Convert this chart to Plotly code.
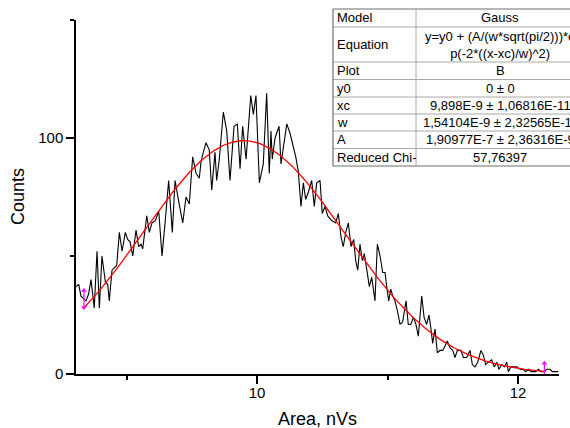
import numpy as np
import plotly.graph_objects as go

# Pulse-area histogram (bin centre in nVs, counts per bin)
area_nvs = [
    8.613, 8.634, 8.651, 8.669, 8.690, 8.710, 8.728, 8.753, 8.774, 8.792,
    8.812, 8.838, 8.856, 8.868, 8.889, 8.907, 8.925, 8.945, 8.966, 8.991,
    9.009, 9.027, 9.048, 9.073, 9.093, 9.111, 9.124, 9.155, 9.175, 9.195,
    9.221, 9.247, 9.272, 9.297, 9.323, 9.351, 9.372, 9.397, 9.431, 9.456,
    9.481, 9.507, 9.533, 9.558, 9.571, 9.589, 9.609, 9.634, 9.653, 9.678,
    9.691, 9.711, 9.742, 9.768, 9.793, 9.824, 9.849, 9.870, 9.890, 9.916,
    9.952, 9.972, 9.992, 10.018, 10.048, 10.074, 10.094, 10.107, 10.117, 10.138,
    10.169, 10.184, 10.202, 10.228, 10.253, 10.278, 10.297, 10.316, 10.337, 10.355,
    10.373, 10.393, 10.419, 10.439, 10.457, 10.483, 10.500, 10.521, 10.542, 10.572,
    10.603, 10.623, 10.644, 10.661, 10.680, 10.700, 10.720, 10.741, 10.756, 10.772,
    10.789, 10.807, 10.822, 10.839, 10.861, 10.879, 10.891, 10.904, 10.922, 10.943,
    10.963, 10.981, 10.994, 11.009, 11.025, 11.040, 11.057, 11.075, 11.096, 11.116,
    11.142, 11.159, 11.178, 11.198, 11.218, 11.236, 11.262, 11.280, 11.300, 11.318,
    11.331, 11.346, 11.364, 11.382, 11.402, 11.423, 11.441, 11.458, 11.479, 11.500,
    11.517, 11.535, 11.563, 11.581, 11.607, 11.632, 11.650, 11.670, 11.691, 11.716,
    11.734, 11.752, 11.772, 11.798, 11.818, 11.837, 11.854, 11.875, 11.895, 11.913,
    11.926, 11.946, 11.964, 11.990, 12.015, 12.041, 12.059, 12.079, 12.100, 12.117,
    12.136, 12.156, 12.176, 12.202, 12.220, 12.245, 12.263, 12.278, 12.297, 12.309,
]
counts = [
    37, 38, 33, 32, 31, 34, 40, 28, 52, 28,
    50, 39, 38, 31, 44, 45, 46, 60, 52, 60,
    57, 56, 50, 61, 54, 55, 53, 67, 60, 64,
    65, 69, 50, 65, 82, 60, 82, 74, 64, 75,
    72, 92, 85, 83, 90, 94, 98, 95, 78, 94,
    82, 91, 111, 103, 82, 105, 106, 87, 105, 91,
    118, 110, 118, 81, 89, 119, 85, 103, 91, 100,
    105, 89, 96, 106, 102, 96, 92, 86, 71, 81,
    74, 77, 82, 71, 81, 82, 68, 71, 67, 65,
    64, 68, 58, 54, 60, 64, 54, 57, 48, 44,
    55, 48, 51, 45, 37, 41, 36, 31, 55, 50,
    43, 43, 37, 31, 36, 33, 31, 27, 21, 22,
    31, 21, 21, 24, 21, 16, 33, 24, 21, 25,
    20, 13, 19, 9, 10, 10, 12, 14, 11, 10,
    7, 10, 10, 7, 7, 10, 4, 3, 5, 10,
    8, 4, 5, 6, 3, 5, 2, 4, 3, 5,
    1, 3, 3, 3, 2, 2, 1, 2, 1, 1,
    1, 2, 1, 1, 2, 2, 1, 1, 1, 1,
]

# Gauss fit result (SI units: V*s)
fit_model = "Gauss"
fit_plot = "B"
fit_y0, fit_y0_err = 0, 0
fit_xc, fit_xc_err = 9.898e-9, 1.06816e-11
fit_w, fit_w_err = 1.54104e-9, 2.32565e-11
fit_A, fit_A_err = 1.90977e-7, 2.36316e-9
fit_chi2 = 57.76397
fit_range_nvs = [8.674, 12.202]

x_range = [8.613, 12.314]
y_range = [0, 150]


def sci(v):
    """Format like 9,898E-9 (comma decimal, trimmed mantissa)."""
    m, e = f"{v:E}".split("E")
    m = m.rstrip("0").rstrip(".")
    return f"{m}E{int(e)}".replace(".", ",")


table_labels = ["Model", "Equation", "Plot", "y0", "xc", "w", "A", "Reduced Chi-"]
table_values = [
    fit_model,
    "y=y0 + (A/(w*sqrt(pi/2)))*e<br>p(-2*((x-xc)/w)^2)",
    fit_plot,
    f"{fit_y0} ± {fit_y0_err}",
    f"{sci(fit_xc)} ± {sci(fit_xc_err)}",
    f"{sci(fit_w)} ± {sci(fit_w_err)}",
    f"{sci(fit_A)} ± {sci(fit_A_err)}",
    f"{fit_chi2}".replace(".", ","),
]

# Fitted Gaussian over the fit range
fx = np.linspace(fit_range_nvs[0], fit_range_nvs[1], 400)
fx_si = fx * 1e-9
fy = fit_y0 + (fit_A / (fit_w * np.sqrt(np.pi / 2))) * np.exp(-2 * ((fx_si - fit_xc) / fit_w) ** 2)

FONT = "Arial, 'Liberation Sans', sans-serif"

fig = go.Figure()
fig.add_trace(go.Scatter(x=area_nvs, y=counts, mode="lines",
                         line=dict(color="black", width=1.1), hoverinfo="skip"))
fig.add_trace(go.Scatter(x=fx, y=fy, mode="lines",
                         line=dict(color="#ff0000", width=1.3), hoverinfo="skip"))

# Data-range markers at both ends of the fit range
half = 3.6
for xr in fit_range_nvs:
    yc = float(np.interp(xr, area_nvs, counts))
    fig.add_trace(go.Scatter(
        x=[xr, xr], y=[yc + half, yc - half], mode="lines+markers",
        line=dict(color="#ff00ff", width=1.2),
        marker=dict(symbol=["triangle-up", "triangle-down"], size=5, color="#ff00ff"),
        cliponaxis=False, hoverinfo="skip"))

axis_common = dict(
    showline=True, linecolor="black", linewidth=1.5,
    ticks="outside", ticklen=8, tickwidth=1.5, tickcolor="black",
    showgrid=False, zeroline=False,
    tickfont=dict(family=FONT, size=15, color="black"),
)
fig.update_xaxes(range=x_range, tick0=0, dtick=2, ticklabelstandoff=-4,
                 minor=dict(dtick=1, ticks="outside", ticklen=4, tickwidth=1.5, tickcolor="black"),
                 **axis_common)
fig.update_yaxes(range=y_range, tick0=0, dtick=100,
                 minor=dict(dtick=50, ticks="outside", ticklen=4, tickwidth=1.5, tickcolor="black"),
                 **axis_common)

W, H = 570, 428
ML, MR, MT, MB = 76, 11, 20, 54
PW, PH = W - ML - MR, H - MT - MB


def px(x):
    return (x - ML) / PW


def py(y):
    return (H - MB - y) / PH


annotations = [
    dict(text="Area, nVs", x=0.5, y=py(419), xref="paper", yref="paper",
         showarrow=False, xanchor="center", yanchor="middle",
         font=dict(family=FONT, size=18, color="black")),
    dict(text="Counts", x=px(18), y=0.5, xref="paper", yref="paper",
         showarrow=False, xanchor="center", yanchor="middle", textangle=-90,
         font=dict(family=FONT, size=18, color="black")),
]

# Fit-results table
row_edges = [9, 27, 62, 79.5, 97, 114, 131, 148.5, 166]
t_left, t_div, t_right = 333, 416, 620
shapes = [dict(type="rect", xref="paper", yref="paper",
               x0=px(t_left), x1=px(t_right), y0=py(row_edges[-1]), y1=py(row_edges[0]),
               fillcolor="white", line=dict(width=0), layer="above")]
for i, e in enumerate(row_edges):
    outer = i in (0, len(row_edges) - 1)
    shapes.append(dict(type="line", xref="paper", yref="paper",
                       x0=px(t_left), x1=px(t_right), y0=py(e), y1=py(e),
                       line=dict(color="#6e6e6e" if outer else "#a8a8a8", width=1.2 if outer else 1),
                       layer="above"))
shapes.append(dict(type="line", xref="paper", yref="paper",
                   x0=px(t_left), x1=px(t_left), y0=py(row_edges[0]), y1=py(row_edges[-1]),
                   line=dict(color="#6e6e6e", width=1.2), layer="above"))
shapes.append(dict(type="line", xref="paper", yref="paper",
                   x0=px(t_div), x1=px(t_div), y0=py(row_edges[0]), y1=py(row_edges[-1]),
                   line=dict(color="#a8a8a8", width=1), layer="above"))

for i, (lab, val) in enumerate(zip(table_labels, table_values)):
    yc = (row_edges[i] + row_edges[i + 1]) / 2
    annotations.append(dict(text=lab, x=px(t_left + 2), y=py(yc), xref="paper", yref="paper",
                            showarrow=False, xanchor="left", yanchor="middle",
                            font=dict(family=FONT, size=13, color="black")))
    annotations.append(dict(text=val, x=px(500), y=py(yc), xref="paper", yref="paper",
                            showarrow=False, xanchor="center", yanchor="middle",
                            font=dict(family=FONT, size=13, color="black")))

fig.update_layout(
    width=W, height=H,
    margin=dict(l=ML, r=MR, t=MT, b=MB),
    paper_bgcolor="white", plot_bgcolor="white",
    showlegend=False,
    font=dict(family=FONT, color="black"),
    shapes=shapes, annotations=annotations,
)

fig.write_html("out.html")
